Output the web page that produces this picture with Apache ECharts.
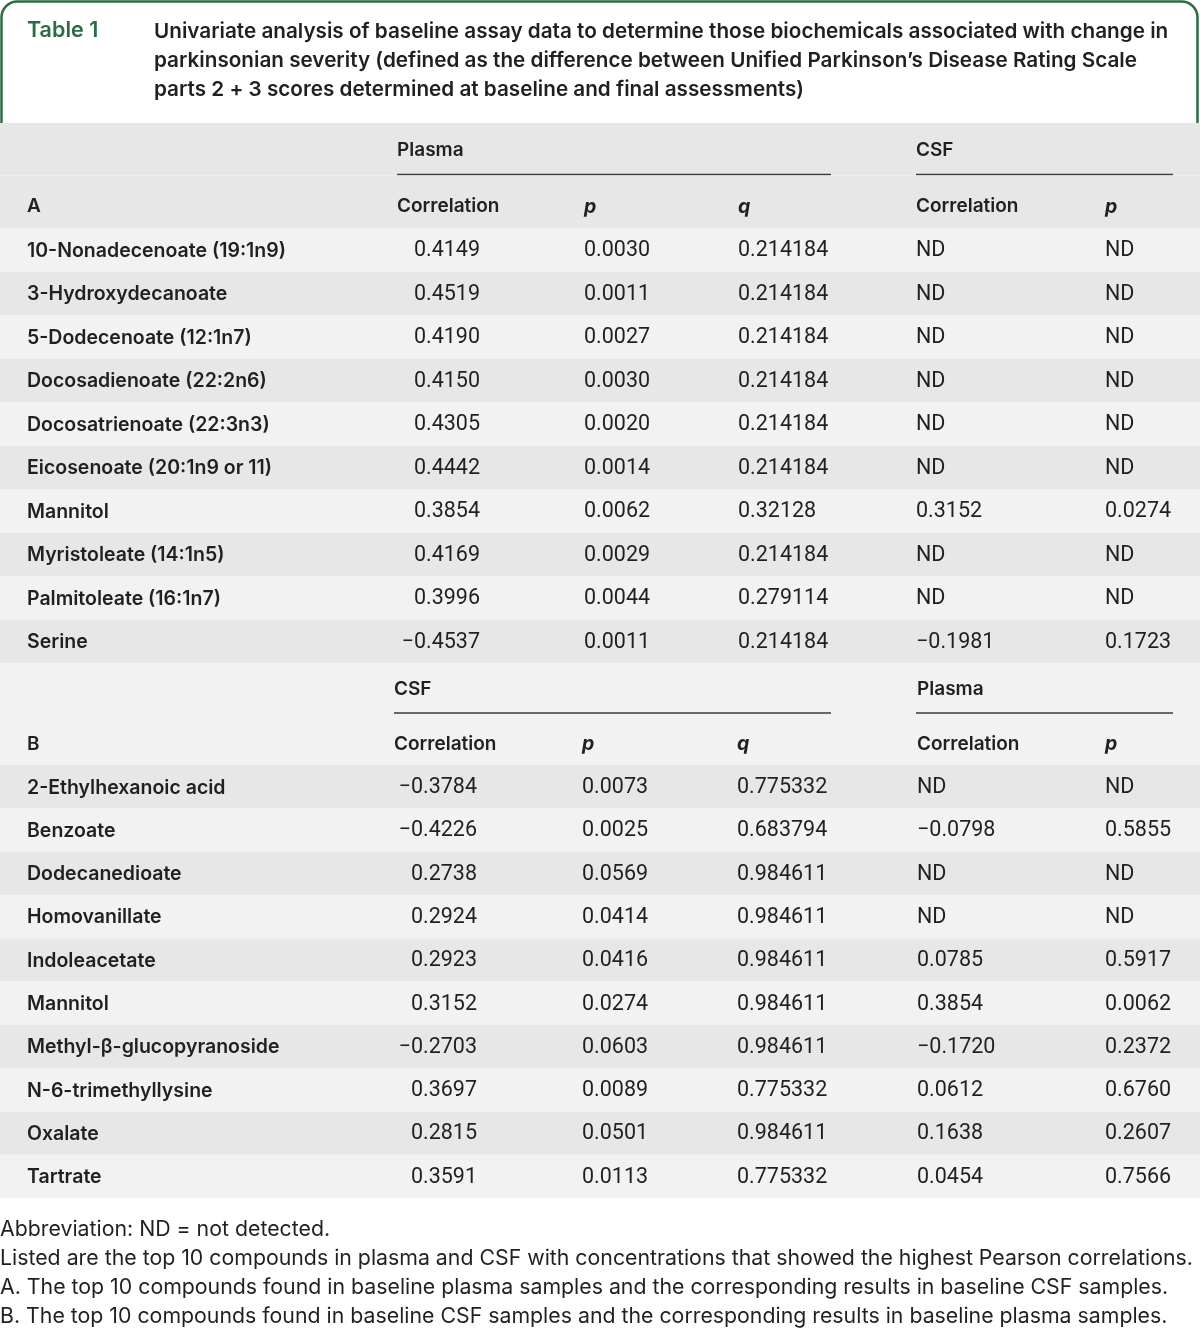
<!DOCTYPE html>
<html>
<head>
<meta charset="utf-8">
<script src="https://cdn.jsdelivr.net/npm/echarts@6/dist/echarts.min.js"></script>
<style>
  html, body { margin: 0; padding: 0; background: #fff; }
  #main { width: 1200px; height: 1329px; }
</style>
</head>
<body>
<div id="main"></div>
<script>
// section A: top plasma compounds, with CSF results
const compoundsA = ['10-Nonadecenoate (19:1n9)', '3-Hydroxydecanoate', '5-Dodecenoate (12:1n7)',
  'Docosadienoate (22:2n6)', 'Docosatrienoate (22:3n3)', 'Eicosenoate (20:1n9 or 11)', 'Mannitol',
  'Myristoleate (14:1n5)', 'Palmitoleate (16:1n7)', 'Serine'];
const plasmaCorrA = [0.4149, 0.4519, 0.4190, 0.4150, 0.4305, 0.4442, 0.3854, 0.4169, 0.3996, -0.4537];
const plasmaPA = [0.0030, 0.0011, 0.0027, 0.0030, 0.0020, 0.0014, 0.0062, 0.0029, 0.0044, 0.0011];
const plasmaQA = [0.214184, 0.214184, 0.214184, 0.214184, 0.214184, 0.214184, 0.32128, 0.214184, 0.279114, 0.214184];
const csfCorrA = [null, null, null, null, null, null, 0.3152, null, null, -0.1981];
const csfPA = [null, null, null, null, null, null, 0.0274, null, null, 0.1723];

// section B: top CSF compounds, with plasma results
const compoundsB = ['2-Ethylhexanoic acid', 'Benzoate', 'Dodecanedioate', 'Homovanillate', 'Indoleacetate',
  'Mannitol', 'Methyl-\u03b2-glucopyranoside', 'N-6-trimethyllysine', 'Oxalate', 'Tartrate'];
const csfCorrB = [-0.3784, -0.4226, 0.2738, 0.2924, 0.2923, 0.3152, -0.2703, 0.3697, 0.2815, 0.3591];
const csfPB = [0.0073, 0.0025, 0.0569, 0.0414, 0.0416, 0.0274, 0.0603, 0.0089, 0.0501, 0.0113];
const csfQB = [0.775332, 0.683794, 0.984611, 0.984611, 0.984611, 0.984611, 0.984611, 0.775332, 0.984611, 0.775332];
const plasmaCorrB = [null, -0.0798, null, null, 0.0785, 0.3854, -0.1720, 0.0612, 0.1638, 0.0454];
const plasmaPB = [null, 0.5855, null, null, 0.5917, 0.0062, 0.2372, 0.6760, 0.2607, 0.7566];

// header texts
const spannersA = ['Plasma', 'CSF'];
const spannersB = ['CSF', 'Plasma'];
const colHeads = ['Correlation', 'p', 'q', 'Correlation', 'p'];

const titleLabel = 'Table 1';
const captionLines = [
  'Univariate analysis of baseline assay data to determine those biochemicals associated with change in',
  'parkinsonian severity (defined as the difference between Unified Parkinson\u2019s Disease Rating Scale',
  'parts 2 + 3 scores determined at baseline and final assessments)'
];
const footnotes = [
  'Abbreviation: ND = not detected.',
  'Listed are the top 10 compounds in plasma and CSF with concentrations that showed the highest Pearson correlations.',
  'A. The top 10 compounds found in baseline plasma samples and the corresponding results in baseline CSF samples.',
  'B. The top 10 compounds found in baseline CSF samples and the corresponding results in baseline plasma samples.'
];

// look
const FONT = 'Inter, Roboto, sans-serif';
const NUMFONT = 'Roboto, Inter, sans-serif';
const GREEN = '#2d6b47';
const INK = '#231f20';
const DARK = '#e6e7e6';
const LIGHT = '#f2f2f2';

// column positions on the 0..1200 x scale (layout)
const layoutA = { corrRight: 480, corrHead: 397, p: 584, q: 738, corr2: 916, p2: 1105, line1: [397, 831], line2: [916, 1173] };
const layoutB = { corrRight: 477, corrHead: 394, p: 582, q: 737, corr2: 917, p2: 1105, line1: [394, 831], line2: [916, 1173] };

function fmtCorr(v) { return v == null ? 'ND' : v.toFixed(4).replace('-', '\u2212'); }
function fmtP(v) { return v == null ? 'ND' : v.toFixed(4); }
function fmtQ(v) { return v == null ? 'ND' : String(v); }

function txt(x, y, s, font, align, fill) {
  return { type: 'text', style: { x: x, y: y, text: s, font: font, align: align || 'left', verticalAlign: 'middle', fill: fill || INK } };
}

function dataRender(names, c1, c2, c3, c4, c5, lay, firstFill) {
  return function (params, api) {
    const i = params.dataIndex;
    const left = api.coord([0, i]);
    const right = api.coord([1200, i]);
    const h = api.size([0, 1])[1];
    const y = left[1];
    const ty = y + 1;
    const X = v => api.coord([v, i])[0];
    const fill = i % 2 === 0 ? firstFill : (firstFill === LIGHT ? DARK : LIGHT);
    const num = '400 21.5px ' + NUMFONT;
    return {
      type: 'group',
      children: [
        { type: 'rect', shape: { x: left[0], y: y - h / 2, width: right[0] - left[0], height: h }, style: { fill: fill } },
        txt(X(27), ty, names[i], '600 19.5px ' + FONT),
        txt(X(lay.corrRight), ty, fmtCorr(c1[i]), num, 'right'),
        txt(X(lay.p), ty, fmtP(c2[i]), num),
        txt(X(lay.q), ty, fmtQ(c3[i]), num),
        txt(X(lay.corr2), ty, fmtCorr(c4[i]), num),
        txt(X(lay.p2), ty, fmtP(c5[i]), num)
      ]
    };
  };
}

function headRender(letter, spanners, lay, fill) {
  return function (params, api) {
    const i = params.dataIndex;
    const left = api.coord([0, i]);
    const right = api.coord([1200, i]);
    const h = api.size([0, 1])[1];
    const y = left[1];
    const X = v => api.coord([v, i])[0];
    const bold = '600 19px ' + FONT;
    const ital = 'italic 700 19.5px ' + FONT;
    const kids = [{ type: 'rect', shape: { x: left[0], y: y - h / 2, width: right[0] - left[0], height: h }, style: { fill: fill } }];
    if (i === 0) {
      kids.push(txt(X(lay.corrHead), y + 1, spanners[0], bold));
      kids.push(txt(X(lay.corr2), y + 1, spanners[1], bold));
      const ly = y + h / 2 - 1;
      kids.push({ type: 'line', shape: { x1: X(lay.line1[0]), y1: ly, x2: X(lay.line1[1]), y2: ly }, style: { stroke: '#3a3a3a', lineWidth: 1.5 } });
      kids.push({ type: 'line', shape: { x1: X(lay.line2[0]), y1: ly, x2: X(lay.line2[1]), y2: ly }, style: { stroke: '#3a3a3a', lineWidth: 1.5 } });
    } else {
      const yy = y + 5;
      kids.push(txt(X(27), yy, letter, bold));
      kids.push(txt(X(lay.corrHead), yy, colHeads[0], bold));
      kids.push(txt(X(lay.p), yy, colHeads[1], ital));
      kids.push(txt(X(lay.q), yy, colHeads[2], ital));
      kids.push(txt(X(lay.corr2), yy, colHeads[3], bold));
      kids.push(txt(X(lay.p2), yy, colHeads[4], ital));
    }
    return { type: 'group', children: kids };
  };
}

const grids = [
  { left: 0, right: 0, top: 123, height: 105 },
  { left: 0, right: 0, top: 228, height: 435 },
  { left: 0, right: 0, top: 663, height: 102 },
  { left: 0, right: 0, top: 765, height: 433 }
];
const yCats = [['span', 'cols'], compoundsA, ['span', 'cols'], compoundsB];

const chart = echarts.init(document.getElementById('main'), null, { renderer: 'canvas' });

const graphic = [
  { type: 'rect', z: 0, shape: { x: 1.5, y: 1.5, width: 1196, height: 150, r: [16, 16, 0, 0] },
    style: { fill: '#fff', stroke: GREEN, lineWidth: 2.5 } },
  { type: 'text', z: 1, style: { x: 27, y: 31, text: titleLabel, font: '600 21.5px ' + FONT, fill: GREEN, verticalAlign: 'middle' } }
];
captionLines.forEach((s, k) => {
  graphic.push({ type: 'text', z: 1, style: { x: 154, y: 32 + k * 29, text: s, font: '600 20.7px ' + FONT, fill: INK, verticalAlign: 'middle' } });
});
footnotes.forEach((s, k) => {
  graphic.push({ type: 'text', z: 1, style: { x: 0, y: 1230 + k * 29, text: s, font: '400 21.3px ' + FONT, fill: INK, verticalAlign: 'middle' } });
});

chart.setOption({
  animation: false,
  backgroundColor: '#fff',
  graphic: graphic,
  grid: grids,
  xAxis: grids.map((g, k) => ({ type: 'value', gridIndex: k, min: 0, max: 1200, show: false })),
  yAxis: yCats.map((c, k) => ({ type: 'category', gridIndex: k, data: c, inverse: true, show: false })),
  series: [
    { type: 'custom', xAxisIndex: 0, yAxisIndex: 0, data: [[0, 0], [0, 1]], encode: { x: 0, y: 1 },
      renderItem: headRender('A', spannersA, layoutA, DARK), silent: true },
    { type: 'custom', xAxisIndex: 1, yAxisIndex: 1, data: compoundsA.map((c, i) => [0, i]), encode: { x: 0, y: 1 },
      renderItem: dataRender(compoundsA, plasmaCorrA, plasmaPA, plasmaQA, csfCorrA, csfPA, layoutA, LIGHT), silent: true },
    { type: 'custom', xAxisIndex: 2, yAxisIndex: 2, data: [[0, 0], [0, 1]], encode: { x: 0, y: 1 },
      renderItem: headRender('B', spannersB, layoutB, LIGHT), silent: true },
    { type: 'custom', xAxisIndex: 3, yAxisIndex: 3, data: compoundsB.map((c, i) => [0, i]), encode: { x: 0, y: 1 },
      renderItem: dataRender(compoundsB, csfCorrB, csfPB, csfQB, plasmaCorrB, plasmaPB, layoutB, DARK), silent: true }
  ]
});
</script>
</body>
</html>
